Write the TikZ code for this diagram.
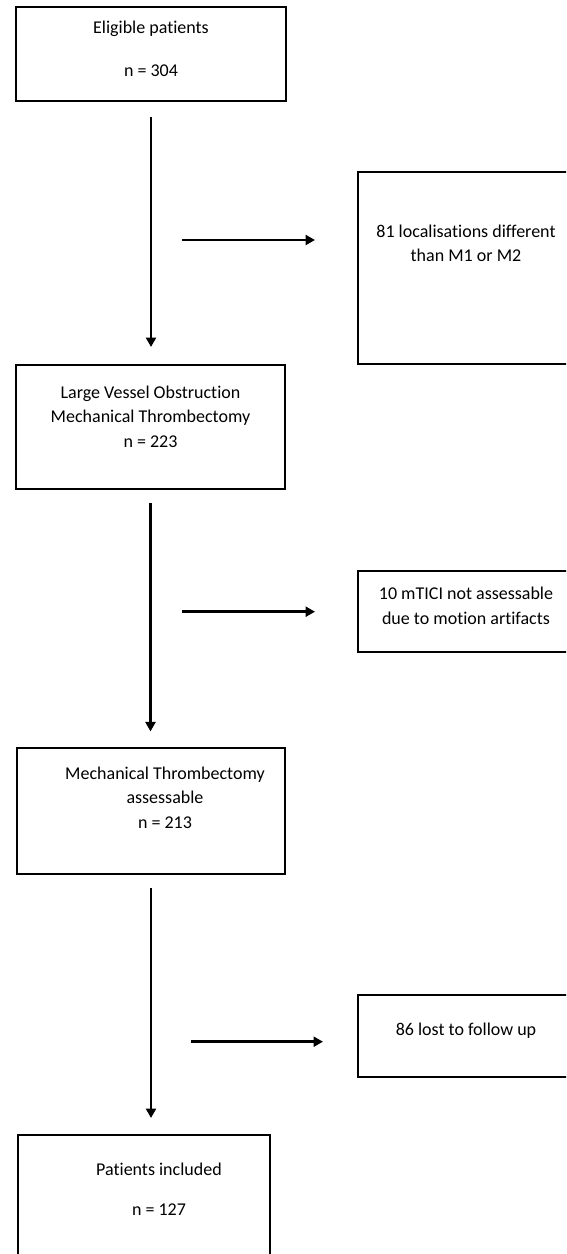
\documentclass[tikz,border=0pt]{standalone}
\usepackage{fontspec}
\setmainfont{Carlito}[Ligatures=CommonOff]
\usetikzlibrary{arrows.meta}
\newcommand\flowtext[5]{\begin{minipage}[c][#2][t]{#1}\centering\leftskip=#4 plus 1fil\vspace*{#3}\rule{0pt}{14pt}#5\end{minipage}}
\tikzset{
  box/.style={draw, line width=1.6pt, inner sep=0pt, outer sep=0pt, anchor=north west,
    font=\fontsize{18pt}{24.5pt}\selectfont},
  arr/.style={line width=2.8pt, -{Triangle[length=9.5pt,width=10pt]}},
}
\begin{document}
\begin{tikzpicture}[x=1pt,y=1pt]
\useasboundingbox (0,0) rectangle (566,-1254);
\clip (0,0) rectangle (566,-1254);
\node[box] (b1) at (16,-7) {\flowtext{270pt}{94pt}{12.5pt}{0pt}{Eligible patients\\[18pt] n = 304}};
\node[box] (b2) at (358,-172) {\flowtext{216pt}{192pt}{51.3pt}{0pt}{81 localisations different\\ than M1 or M2}};
\node[box] (b3) at (16,-365) {\flowtext{269pt}{124pt}{19pt}{0pt}{Large Vessel Obstruction\\ Mechanical Thrombectomy\\[0.5pt] n = 223}};
\node[box] (b4) at (358,-571) {\flowtext{216pt}{81pt}{14.5pt}{0pt}{10 mTICI not assessable\\ due to motion artifacts}};
\node[box] (b5) at (17,-748) {\flowtext{268pt}{126pt}{17pt}{28pt}{Mechanical Thrombectomy\\ assessable\\ n = 213}};
\node[box] (b6) at (358,-995) {\flowtext{216pt}{82pt}{26pt}{0pt}{86 lost to follow up}};
\node[box] (b7) at (18,-1135) {\flowtext{252pt}{130pt}{26pt}{30pt}{Patients included\\[15.5pt] n = 127}};
\coordinate (h1) at (182,-240);
\coordinate (h2) at (182,-611.7);
\coordinate (h3) at (191,-1041.7);
\draw[arr, shorten <=16pt, shorten >=18pt] (b1.south) -- (b1.south |- b3.north);
\draw[arr, shorten <=14pt, shorten >=16.6pt] (b3.south) -- (b3.south |- b5.north);
\draw[arr, shorten <=14pt, shorten >=17pt] (b5.south) -- (b5.south |- b7.north);
\draw[arr, shorten >=43pt] (h1) -- (h1 -| b2.west);
\draw[arr, shorten >=43pt] (h2) -- (h2 -| b4.west);
\draw[arr, shorten >=35pt] (h3) -- (h3 -| b6.west);
\end{tikzpicture}
\end{document}
